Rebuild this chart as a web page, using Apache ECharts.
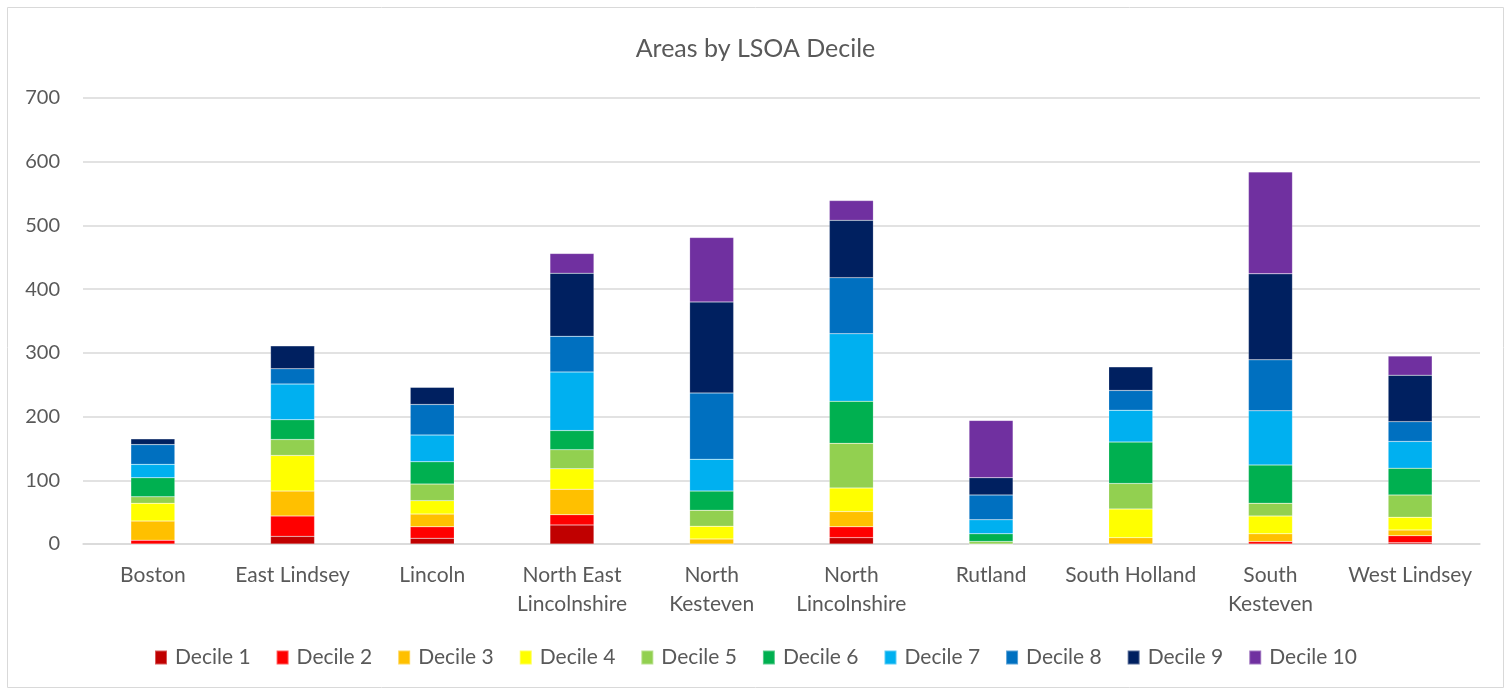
<!DOCTYPE html>
<html>
<head>
<meta charset="utf-8">
<script src="https://cdn.jsdelivr.net/npm/echarts@6/dist/echarts.min.js"></script>
<style>
html,body{margin:0;padding:0;background:#fff;}
#chart{width:1511px;height:692px;}
</style>
</head>
<body>
<div id="chart"></div>
<script>
var categories = ['Boston','East Lindsey','Lincoln','North East\nLincolnshire','North\nKesteven','North\nLincolnshire','Rutland','South Holland','South\nKesteven','West Lindsey'];
var seriesNames = ['Decile 1','Decile 2','Decile 3','Decile 4','Decile 5','Decile 6','Decile 7','Decile 8','Decile 9','Decile 10'];
var colors = ['#C00000','#FF0000','#FFC000','#FFFF00','#92D050','#00B050','#00B0F0','#0070C0','#002060','#7030A0'];
var decile1  = [0, 12,  9, 30,   0, 10,  0,  0,   0,  2];
var decile2  = [6, 32, 18, 16,   0, 17,  0,  0,   4, 11];
var decile3  = [30, 39, 20, 40,  8, 24,  0, 10,  12,  9];
var decile4  = [28, 56, 21, 32, 20, 37,  0, 45,  28, 20];
var decile5  = [10, 25, 26, 30, 25, 70,  4, 40,  20, 35];
var decile6  = [30, 31, 35, 30, 30, 66, 12, 65,  60, 42];
var decile7  = [21, 56, 42, 92, 50, 106, 22, 50, 85, 42];
var decile8  = [31, 24, 48, 56, 104, 88, 39, 31, 80, 31];
var decile9  = [9, 36, 27, 99, 143, 90, 27, 37, 135, 73];
var decile10 = [0,  0,  0, 31, 101, 31, 90,  0, 160, 30];
var yTicks = [0,100,200,300,400,500,600,700];

var allData = [decile1,decile2,decile3,decile4,decile5,decile6,decile7,decile8,decile9,decile10];
var font = 'Lato, "Open Sans", sans-serif';
var chart = echarts.init(document.getElementById('chart'));
var series = seriesNames.map(function(n,i){
  return {
    name: n, type: 'bar', stack: 'total', data: allData[i],
    barWidth: '31.5%',
    itemStyle: {color: colors[i], borderColor: 'rgba(255,255,255,0.35)', borderWidth: 0.5},
    emphasis: {disabled: true}
  };
});
chart.setOption({
  animation: false,
  color: colors,
  title: {
    text: 'Areas by LSOA Decile', left: 'center', top: 31,
    textStyle: {fontFamily: font, fontSize: 25, fontWeight: 'normal', color: '#595959'}
  },
  graphic: [{
    type: 'rect', shape: {x: 7.5, y: 7.5, width: 1496, height: 680},
    style: {fill: 'none', stroke: '#d9d9d9', lineWidth: 1}, silent: true, z: -1
  }],
  legend: {
    bottom: 19, left: 'center', itemWidth: 12, itemHeight: 14, itemGap: 25,
    icon: 'rect',
    textStyle: {fontFamily: font, fontSize: 21, color: '#595959', padding: [0,0,0,3]},
    data: seriesNames
  },
  grid: {left: 83, right: 31, top: 98, bottom: 148},
  xAxis: {
    type: 'category', data: categories,
    axisLine: {lineStyle: {color: '#d9d9d9', width: 1.5}},
    axisTick: {show: false},
    axisLabel: {fontFamily: font, fontSize: 21, color: '#595959', margin: 17, lineHeight: 29, interval: 0}
  },
  yAxis: {
    type: 'value', min: 0, max: 700, interval: 100,
    axisLine: {show: false}, axisTick: {show: false},
    splitLine: {lineStyle: {color: '#d9d9d9', width: 1.5}},
    axisLabel: {fontFamily: font, fontSize: 20, color: '#595959', margin: 23,
      formatter: function(v){ return yTicks.indexOf(v) >= 0 ? String(v) : ''; }}
  },
  series: series
});
</script>
</body>
</html>
